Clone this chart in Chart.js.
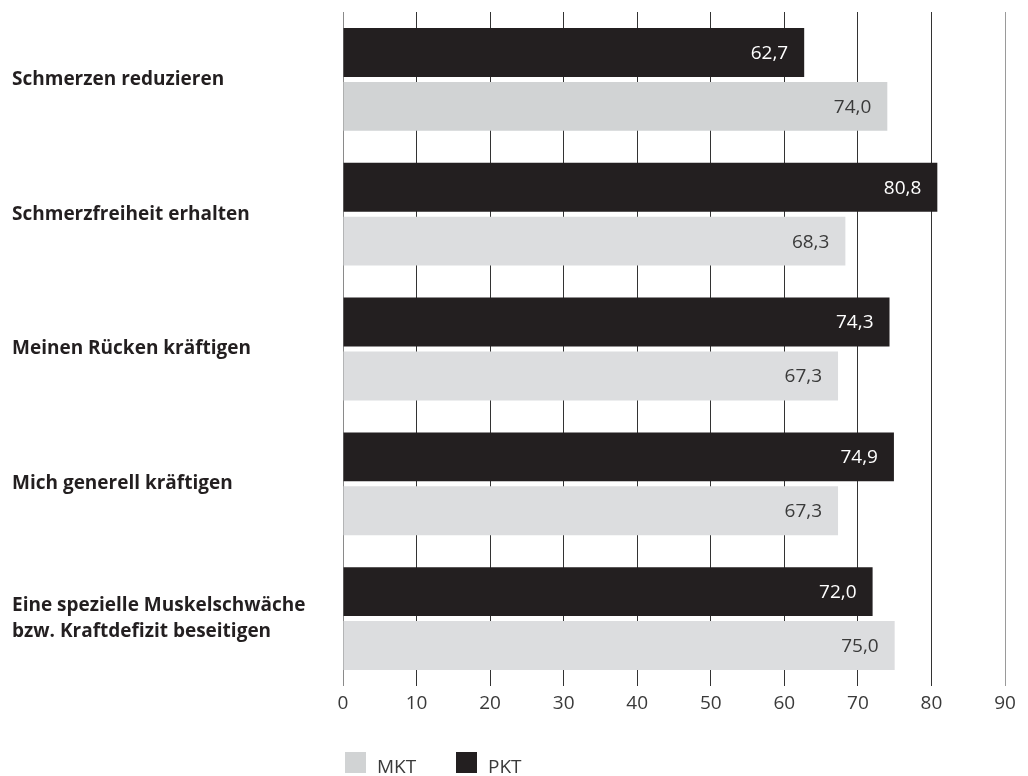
<!DOCTYPE html>
<html>
<head>
<meta charset="utf-8">
<script src="https://cdn.jsdelivr.net/npm/chart.js@4/dist/chart.umd.min.js"></script>
<style>
html,body{margin:0;padding:0;background:#fff;}
#wrap{width:1028px;height:776px;position:relative;}
</style>
</head>
<body>
<div id="wrap"><canvas id="c"></canvas></div>
<script>
const categories = [
  'Schmerzen reduzieren',
  'Schmerzfreiheit erhalten',
  'Meinen Rücken kräftigen',
  'Mich generell kräftigen',
  ['Eine spezielle Muskelschwäche', 'bzw. Kraftdefizit beseitigen']
];
const seriesNames = ['PKT', 'MKT'];
const pktValues = [62.7, 80.8, 74.3, 74.9, 72.0];
const mktValues = [74.0, 68.3, 67.3, 67.3, 75.0];
const xTicks = [0, 10, 20, 30, 40, 50, 60, 70, 80, 90];

const FONT = '"Open Sans", "Noto Sans", sans-serif';
const DARK = '#231f20';
const LIGHT = '#d1d3d4';
const LIGHT2 = '#dcdddf';
const mktColors = [LIGHT, LIGHT2, LIGHT2, LIGHT2, LIGHT2];
const TEXT = '#3a3a3a';

const valueLabels = {
  id: 'valueLabels',
  afterDatasetsDraw(chart) {
    const ctx = chart.ctx;
    ctx.save();
    ctx.font = '400 19px ' + FONT;
    ctx.textAlign = 'right';
    ctx.textBaseline = 'middle';
    chart.data.datasets.forEach((ds, di) => {
      const meta = chart.getDatasetMeta(di);
      meta.data.forEach((bar, i) => {
        ctx.fillStyle = di === 0 ? '#ffffff' : TEXT;
        const txt = ds.data[i].toFixed(1).replace('.', ',');
        ctx.fillText(txt, bar.x - 16, bar.y + 1);
      });
    });
    ctx.restore();
  }
};

const customLegend = {
  id: 'customLegend',
  afterDraw(chart) {
    const ctx = chart.ctx;
    const left = chart.chartArea.left;
    const items = [
      {label: seriesNames[1], color: LIGHT, x: left + 2},
      {label: seriesNames[0], color: DARK, x: left + 113}
    ];
    ctx.save();
    ctx.font = '400 19px ' + FONT;
    ctx.textBaseline = 'alphabetic';
    ctx.textAlign = 'left';
    items.forEach(it => {
      ctx.fillStyle = it.color;
      ctx.fillRect(it.x, 752, 21, 21);
      ctx.fillStyle = TEXT;
      ctx.fillText(it.label, it.x + 32, 773);
    });
    ctx.restore();
  }
};

new Chart(document.getElementById('c'), {
  type: 'bar',
  data: {
    labels: categories,
    datasets: [
      {label: seriesNames[0], data: pktValues, backgroundColor: DARK,
       categoryPercentage: 0.80, barPercentage: 0.907},
      {label: seriesNames[1], data: mktValues, backgroundColor: mktColors,
       categoryPercentage: 0.80, barPercentage: 0.907}
    ]
  },
  options: {
    indexAxis: 'y',
    responsive: true,
    maintainAspectRatio: false,
    animation: false,
    layout: {padding: {left: 12, right: 23, top: 12, bottom: 0}},
    plugins: {
      legend: {display: false},
      tooltip: {enabled: false}
    },
    scales: {
      x: {
        min: 0, max: 90,
        afterBuildTicks(scale) { scale.ticks = xTicks.map(v => ({value: v})); },
        afterFit(scale) { scale.height = 90; scale.paddingLeft = 0; scale.paddingRight = 0; },
        grid: {
          drawTicks: false,
          lineWidth: 1,
          color(ctx) {
            const v = ctx.tick ? ctx.tick.value : null;
            if (v === 0) return '#8a8a8a';
            if (v === 90) return '#9a9a9a';
            return '#333333';
          }
        },
        border: {display: false},
        ticks: {
          padding: 6,
          color: TEXT,
          font: {family: FONT, size: 19, weight: '400'}
        }
      },
      y: {
        afterFit(scale) { scale.width = 331; scale.paddingTop = 0; scale.paddingBottom = 0; },
        grid: {display: false, drawTicks: false},
        border: {display: false},
        ticks: {
          crossAlign: 'far',
          color: DARK,
          font: {family: FONT, size: 19, weight: 'bold', lineHeight: 1.32}
        }
      }
    }
  },
  plugins: [valueLabels, customLegend]
});
</script>
</body>
</html>
